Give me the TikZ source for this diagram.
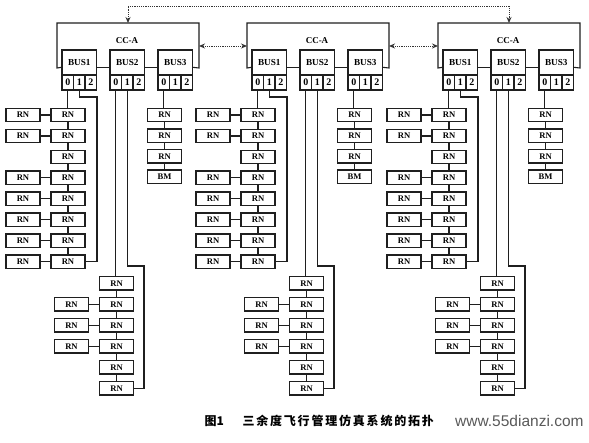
\documentclass[tikz,border=0pt]{standalone}
\usepackage{fontspec}
\setmainfont{Liberation Serif}
\newfontfamily\cjk{Noto Sans CJK SC}
\newfontfamily\wmfont{Liberation Sans}
\usetikzlibrary{arrows.meta,calc}
\begin{document}
\begin{tikzpicture}[x=1pt,y=-1pt,
  ln/.style={line width=1.1pt,draw=black!88},
  bx/.style={draw=black!88,line width=1.3pt,fill=white,inner sep=0pt},
  rn/.style={bx,minimum width=34pt,minimum height=13.5pt,font=\bfseries\fontsize{8.6}{8.6}\selectfont},
  busbox/.style={bx,minimum width=34.5pt,minimum height=25pt,font=\bfseries\fontsize{9.2}{9.2}\selectfont},
  portbox/.style={bx,minimum width=11.5pt,minimum height=15pt,font=\bfseries\fontsize{10}{10}\selectfont},
  dotln/.style={line width=1pt,draw=black!80,dash pattern=on 1.2pt off 1pt,>={Stealth[length=6pt,width=5pt]}}
]
\useasboundingbox (0,0) rectangle (589,442);

\foreach \m/\ox in {1/0,2/190,3/381}{
  % CC-A frame coordinates
  \coordinate (cct\m) at ({\ox+128},23);
  \coordinate (ccl\m) at ({\ox+57},46);
  \coordinate (ccr\m) at ({\ox+199},46);
  \node[font=\bfseries\fontsize{9}{9}\selectfont] (cc\m) at ({\ox+127},40.5) {CC-A};
  % BUS boxes and ports
  \foreach \k/\bx in {1/62,2/110,3/158}{
    \node[busbox] (b\m-\k) at ({\ox+\bx+17.25},62.5) {BUS\k};
    \node[portbox] (p\m-\k-0) at ({\ox+\bx+5.75},82.5) {0};
    \node[portbox] (p\m-\k-1) at ({\ox+\bx+17.25},82.5) {1};
    \node[portbox] (p\m-\k-2) at ({\ox+\bx+28.75},82.5) {2};
  }
  % frame of CC-A
  \draw[ln] ([yshift=-18pt]b\m-1.north west) -- ({\ox+57},68) -- ({\ox+57},23)
            -- ({\ox+199},23) -- ({\ox+199},68) -- ([yshift=-18pt]b\m-3.north east);
  \draw[ln] ([yshift=-18pt]b\m-1.north east) -- ([yshift=-18pt]b\m-2.north west);
  \draw[ln] ([yshift=-18pt]b\m-2.north east) -- ([yshift=-18pt]b\m-3.north west);

  % chain on BUS1
  \foreach \i in {1,...,8}{
    \node[rn] (a\m-\i) at ({\ox+68},{115+20.95*(\i-1)}) {RN};
  }
  \foreach \i [count=\j from 2] in {1,...,7}{
    \draw[ln] (a\m-\i) -- (a\m-\j);
  }
  \foreach \i in {1,2,4,5,6,7,8}{
    \node[rn] (al\m-\i) at ({\ox+23},{115+20.95*(\i-1)}) {RN};
    \draw[ln] (al\m-\i) -- (a\m-\i);
  }
  \draw[ln] (p\m-1-0.south) -- (p\m-1-0.south |- a\m-1.north);
  \coordinate (k\m-1) at ({\ox+97},97);
  \draw[ln] (p\m-1-1.south) |- (k\m-1) |- (a\m-8.east);

  % chain on BUS2
  \foreach \i in {1,...,6}{
    \node[rn] (c\m-\i) at ({\ox+116.5},{283.3+21*(\i-1)}) {RN};
  }
  \foreach \i [count=\j from 2] in {1,...,5}{
    \draw[ln] (c\m-\i) -- (c\m-\j);
  }
  \foreach \i in {2,3,4}{
    \node[rn] (cl\m-\i) at ({\ox+71.5},{283.3+21*(\i-1)}) {RN};
    \draw[ln] (cl\m-\i) -- (c\m-\i);
  }
  \draw[ln] (p\m-2-0.south) -- (p\m-2-0.south |- c\m-1.north);
  \coordinate (k\m-2) at ({\ox+144},266);
  \draw[ln] (p\m-2-1.south) |- (k\m-2) |- (c\m-6.east);

  % chain on BUS3
  \foreach \i/\t in {1/RN,2/RN,3/RN,4/BM}{
    \node[rn] (d\m-\i) at ({\ox+164.5},{115+20.6*(\i-1)}) {\t};
  }
  \foreach \i [count=\j from 2] in {1,...,3}{
    \draw[ln] (d\m-\i) -- (d\m-\j);
  }
  \draw[ln] (p\m-3-0.south) -- (p\m-3-0.south |- d\m-1.north);
}

% links between the CC-A units
\draw[dotln,<->] (ccr1) -- (ccl2);
\draw[dotln,<->] (ccr2) -- (ccl3);
\coordinate (topl) at (128,6);
\coordinate (topr) at (509,6);
\draw[dotln,<->] (cct1) -- (topl) -- (topr) -- (cct3 -| topr);

% caption
\node[anchor=west,font=\cjk\bfseries\fontsize{12}{12}\selectfont] (cap1) at (201,421) {图1};
\node[anchor=west,font=\cjk\bfseries\fontsize{12}{12}\selectfont\addfontfeature{LetterSpace=15}] (cap2) at (239,421) {三余度飞行管理仿真系统的拓扑};
\node[anchor=west,inner sep=0pt,text=black!65,font=\wmfont\fontsize{15.5}{15.5}\selectfont] (wm) at (455,421) {www.55dianzi.com};
\end{tikzpicture}
\end{document}
